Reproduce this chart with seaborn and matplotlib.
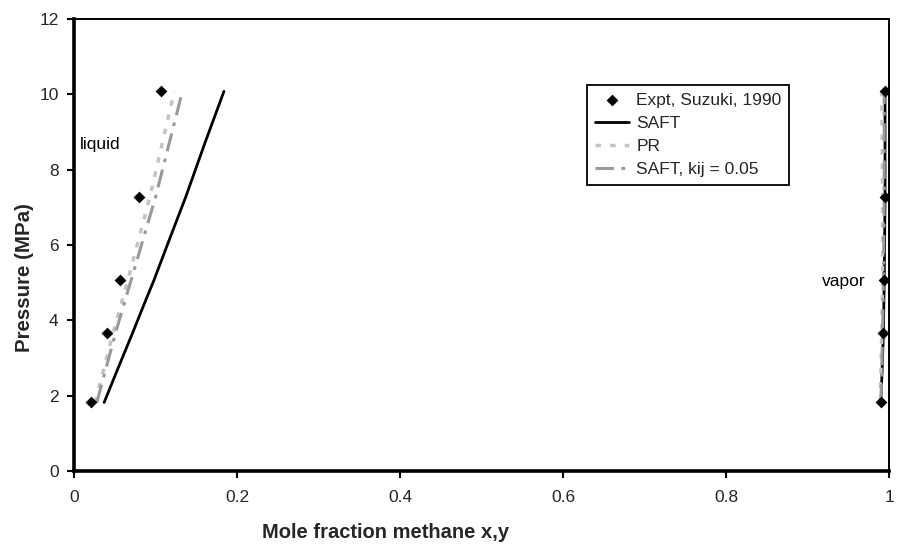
import matplotlib
matplotlib.use("Agg")
import matplotlib.pyplot as plt
import seaborn as sns
import pandas as pd

sns.set_theme(style="white")
plt.rcParams['font.family'] = ['Liberation Sans', 'DejaVu Sans']

# Experimental data (Suzuki, 1990)
expt_P = [1.82, 3.67, 5.06, 7.27, 10.08]
expt_x_liq = [0.021, 0.041, 0.057, 0.080, 0.107]
expt_y_vap = [0.990, 0.993, 0.994, 0.995, 0.995]

# Model curves (pressure, composition)
model_P = [1.82, 3.67, 5.06, 7.27, 10.08]
saft_liq_P = [1.82, 2.7, 3.67, 4.4, 5.06, 6.2, 7.27, 8.7, 10.08]
saft_x = [0.037, 0.0535, 0.072, 0.0855, 0.098, 0.118, 0.137, 0.1605, 0.184]
saft_y = [0.990, 0.993, 0.994, 0.995, 0.995]
pr_x = [0.026, 0.048, 0.066, 0.093, 0.123]
pr_y = [0.989, 0.991, 0.992, 0.992, 0.991]
kij_x = [0.028, 0.051, 0.070, 0.100, 0.133]
kij_y = [0.990, 0.992, 0.993, 0.994, 0.994]

x_ticks = [0, 0.2, 0.4, 0.6, 0.8, 1]
x_tick_labels = ["0", "0.2", "0.4", "0.6", "0.8", "1"]
y_ticks = [0, 2, 4, 6, 8, 10, 12]

fig = plt.figure(figsize=(8.99, 5.5), dpi=100)
ax = fig.add_axes([0.0823, 0.1436, 0.9067, 0.8219])

def line(xs, ys, **kw):
    df = pd.DataFrame({"x": xs, "P": ys})
    sns.lineplot(data=df, x="x", y="P", sort=False, estimator=None, ax=ax, **kw)

# SAFT
line(saft_x, saft_liq_P, color="black", lw=2.0, label="SAFT")
line(saft_y, model_P, color="black", lw=2.0)
# PR
line(pr_x, model_P, color="#c4c4c4", lw=2.5, dashes=(1.6, 2.6), label="PR")
line(pr_y, model_P, color="#c4c4c4", lw=2.5, dashes=(1.6, 2.6))
# SAFT kij
line(kij_x, model_P, color="#999999", lw=2.2, dashes=(6, 2.5, 1.2, 2.5), label="SAFT, kij = 0.05")
line(kij_y, model_P, color="#999999", lw=2.2, dashes=(6, 2.5, 1.2, 2.5))

# Experimental markers
edf = pd.DataFrame({"x": expt_x_liq + expt_y_vap, "P": expt_P + expt_P})
sns.scatterplot(data=edf, x="x", y="P", marker="D", color="black", s=36,
                edgecolor="black", linewidth=0, ax=ax, label="Expt, Suzuki, 1990", zorder=5)

ax.set_xlim(0, 1)
ax.set_ylim(0, 12)
ax.set_xticks(x_ticks)
ax.set_xticklabels(x_tick_labels)
ax.set_yticks(y_ticks)
ax.tick_params(axis="both", labelsize=12.5, direction="out", length=5, width=1.5,
               color="black", bottom=True, left=True)
ax.tick_params(axis="x", pad=9)
ax.tick_params(axis="y", pad=6)
for s in ax.spines.values():
    s.set_color("black")
    s.set_linewidth(1.4)
ax.spines["left"].set_linewidth(2.6)
ax.spines["bottom"].set_linewidth(2.6)

ax.set_xlabel("Mole fraction methane x,y", fontsize=14.5, fontweight="bold")
ax.set_ylabel("Pressure (MPa)", fontsize=14.8, fontweight="bold")
ax.xaxis.set_label_coords(0.382, -0.115)
ax.yaxis.set_label_coords(-0.049, 0.429)

ax.text(0.007, 8.55, "liquid", fontsize=12.5, color="black")
ax.text(0.917, 4.9, "vapor", fontsize=12.5, color="black")

handles, labels = ax.get_legend_handles_labels()
order = [labels.index("Expt, Suzuki, 1990"), labels.index("SAFT"),
         labels.index("PR"), labels.index("SAFT, kij = 0.05")]
leg = ax.legend([handles[i] for i in order], [labels[i] for i in order],
                loc="upper left", bbox_to_anchor=(0.629, 0.854), fontsize=12.5,
                frameon=True, fancybox=False, edgecolor="black", framealpha=1,
                borderpad=0.45, labelspacing=0.45, handlelength=2.0, handletextpad=0.4,
                borderaxespad=0)
leg.get_frame().set_linewidth(1.3)

fig.savefig("out.png", dpi=100)
